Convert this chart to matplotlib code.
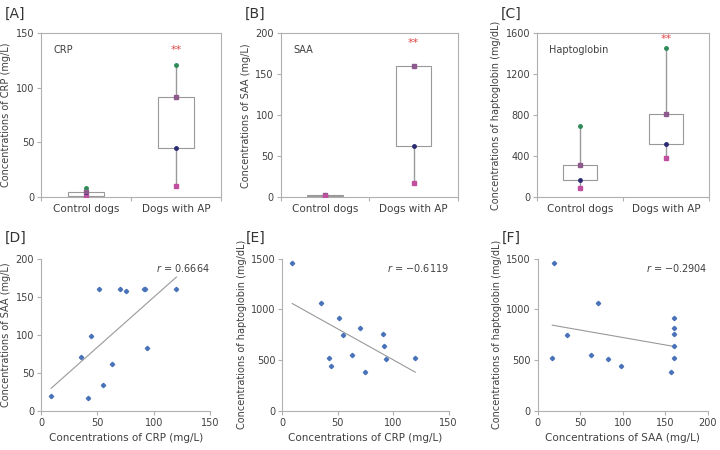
import numpy as np
import matplotlib
matplotlib.use('Agg')
import matplotlib.pyplot as plt

plt.rcParams['font.family'] = 'DejaVu Sans'

groups = ['Control dogs', 'Dogs with AP']

# box summaries: min, Q1, Q3, max for each group
crp_box = [[0.4, 0.7, 5, 8], [10, 45, 92, 121]]
saa_box = [[1.8, 1.9, 2.6, 2.8], [17, 62, 160, 160]]
hp_box = [[85, 165, 315, 690], [385, 520, 815, 1460]]

# individual dogs with AP
crp = [9, 35, 42, 44, 51, 55, 63, 70, 75, 91, 92, 94, 120]
saa = [19, 71, 17, 98, 160, 34, 62, 160, 157, 160, 160, 82, 160]
hp = [1460, 1065, 525, 440, 920, 750, 555, 815, 385, 760, 640, 510, 520]

r_values = ['0.6664', '\u22120.6119', '\u22120.2904']

text_c = '#404040'
spine_c = '#b0b0b0'

fig = plt.figure(figsize=(7.2, 4.5), dpi=100)


def box_panel(rect, data, ylim, yticks, ylabel, name, letter, star_y):
    ax = fig.add_axes(rect)
    for i, (lo, q1, q3, hi) in enumerate(data):
        x = i + 1
        ax.vlines(x, lo, hi, color='#999999', lw=1, zorder=1)
        ax.bar(x, q3 - q1, bottom=q1, width=0.4, color='white',
               edgecolor='#999999', lw=0.8, zorder=2)
        ax.plot(x, hi, 'o', color='#2e8b57', ms=2.5, zorder=3)
        ax.plot(x, q3, 's', color='#8e5a8e', ms=2.5, zorder=3)
        ax.plot(x, q1, 'o', color='#2b2b73', ms=2.5, zorder=3)
        ax.plot(x, lo, 's', color='#c04fa0', ms=3.5, zorder=3)
    ax.text(2, star_y, '**', color='#e04848', fontsize=8, ha='center', va='center')
    ax.set_xlim(0.5, 2.5)
    ax.set_ylim(*ylim)
    ax.set_yticks(yticks)
    ax.set_xticks([0.5, 1.5, 2.5])
    ax.set_xticklabels([])
    ax.set_xticks([1, 2], minor=True)
    ax.set_xticklabels(groups, minor=True)
    ax.tick_params(axis='x', which='minor', length=0, labelsize=7.5, colors=text_c, pad=5)
    ax.tick_params(axis='x', which='major', length=3, color=spine_c)
    ax.tick_params(axis='y', length=3, pad=2, labelsize=7, colors=text_c, color=spine_c)
    for s in ax.spines.values():
        s.set_color(spine_c)
    ax.set_ylabel(ylabel, fontsize=7, color=text_c, labelpad=3)
    ax.text(0.07, 0.93, name, transform=ax.transAxes, fontsize=7, color=text_c,
            va='top')
    fig.text(rect[0] - 0.05, rect[1] + rect[3] + 0.044, letter, fontsize=10,
             color='#333333', va='center')
    return ax


def scatter_panel(rect, x, y, xlim, xticks, ylim, yticks, xlabel, ylabel, r, letter):
    ax = fig.add_axes(rect)
    ax.plot(x, y, 'D', color='#4a72b8', ms=2.2, zorder=3)
    slope, icpt = np.polyfit(x, y, 1)
    xs = np.array([min(x), max(x)])
    ax.plot(xs, slope * xs + icpt, color='#999999', lw=0.8, zorder=2)
    ax.set_xlim(*xlim)
    ax.set_ylim(*ylim)
    ax.set_xticks(xticks)
    ax.set_yticks(yticks)
    ax.spines['top'].set_visible(False)
    ax.spines['right'].set_visible(False)
    for s in ['left', 'bottom']:
        ax.spines[s].set_color(spine_c)
    ax.tick_params(length=3, pad=2, labelsize=7, colors=text_c, color=spine_c)
    ax.set_xlabel(xlabel, fontsize=7.5, color=text_c)
    ax.set_ylabel(ylabel, fontsize=7, color=text_c, labelpad=3)
    ax.text(1.0, 0.98, '$r$ = ' + r, transform=ax.transAxes, fontsize=7,
            color=text_c, ha='right', va='top')
    fig.text(rect[0] - 0.05, rect[1] + rect[3] + 0.047, letter, fontsize=10,
             color='#333333', va='center')
    return ax


box_panel([0.057, 0.562, 0.25, 0.364], crp_box, (0, 150), [0, 50, 100, 150],
          'Concentrations of CRP (mg/L)', 'CRP', '[A]', 135)
box_panel([0.390, 0.562, 0.246, 0.364], saa_box, (0, 200), [0, 50, 100, 150, 200],
          'Concentrations of SAA (mg/L)', 'SAA', '[B]', 188)
box_panel([0.746, 0.562, 0.239, 0.364], hp_box, (0, 1600), [0, 400, 800, 1200, 1600],
          'Concentrations of haptoglobin (mg/dL)', 'Haptoglobin', '[C]', 1540)

scatter_panel([0.057, 0.087, 0.235, 0.338], crp, saa, (0, 150), [0, 50, 100, 150],
              (0, 200), [0, 50, 100, 150, 200],
              'Concentrations of CRP (mg/L)', 'Concentrations of SAA (mg/L)',
              r_values[0], '[D]')
scatter_panel([0.392, 0.087, 0.231, 0.338], crp, hp, (0, 150), [0, 50, 100, 150],
              (0, 1500), [0, 500, 1000, 1500],
              'Concentrations of CRP (mg/L)', 'Concentrations of haptoglobin (mg/dL)',
              r_values[1], '[E]')
scatter_panel([0.747, 0.087, 0.236, 0.338], saa, hp, (0, 200), [0, 50, 100, 150, 200],
              (0, 1500), [0, 500, 1000, 1500],
              'Concentrations of SAA (mg/L)', 'Concentrations of haptoglobin (mg/dL)',
              r_values[2], '[F]')

fig.savefig('out.png', dpi=100)
